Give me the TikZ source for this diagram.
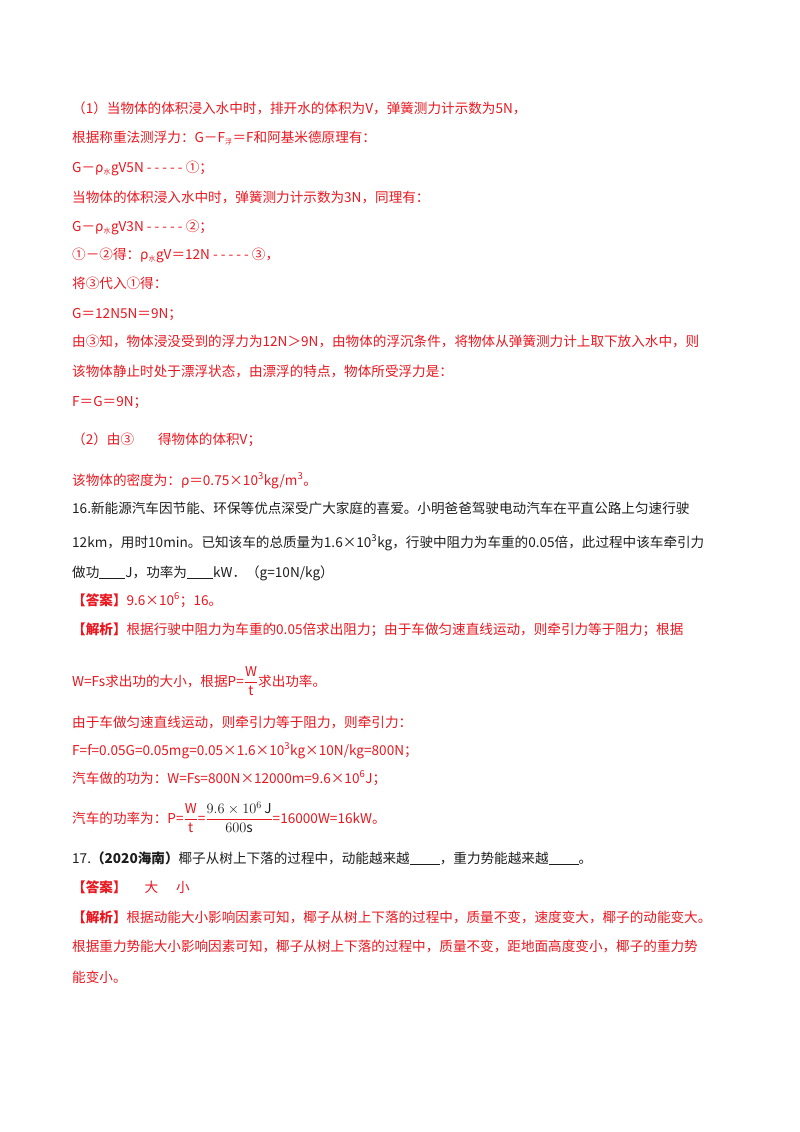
\documentclass[tikz,border=0pt]{standalone}
\usepackage{fontspec}
\setmainfont{Noto Sans CJK SC}
\XeTeXlinebreaklocale "zh"
\XeTeXlinebreakskip=0pt plus 2pt
\definecolor{ansred}{RGB}{232,24,32}
\definecolor{txt}{RGB}{30,30,30}
\newcommand{\sx}[1]{\textsuperscript{#1}}
\newcommand{\fl}[2]{\makebox[#1pt][s]{#2}}
\begin{document}
\begin{tikzpicture}[x=1pt,y=-1pt,
  r/.style={anchor=base west,inner sep=0pt,text=ansred,font=\fontsize{13.6}{14}\selectfont},
  k/.style={anchor=base west,inner sep=0pt,text=txt,font=\fontsize{13.6}{14}\selectfont}]
\useasboundingbox[fill=white] (0,0) rectangle (800,1132);
\node[r] (l1) at (72,113) {（1）当物体的体积浸入水中时，排开水的体积为V，弹簧测力计示数为5N，};
\node[r] (l2) at (72,142) {根据称重法测浮力：G－F\textsubscript{\scriptsize 浮}＝F和阿基米德原理有：};
\node[r] (l3) at (72,172) {G－ρ\textsubscript{\scriptsize 水}gV5N - - - - - ①；};
\node[r] (l4) at (72,202) {当物体的体积浸入水中时，弹簧测力计示数为3N，同理有：};
\node[r] (l5) at (72,231) {G－ρ\textsubscript{\scriptsize 水}gV3N - - - - - ②；};
\node[r] (l6) at (72,259) {①－②得：ρ\textsubscript{\scriptsize 水}gV＝12N - - - - - ③，};
\node[r] (l7) at (72,288) {将③代入①得：};
\node[r] (l8) at (72,318) {G＝12N5N＝9N；};
\node[r] (l9) at (72,346) {\fl{658}{由③知，物体浸没受到的浮力为12N＞9N，由物体的浮沉条件，将物体从弹簧测力计上取下放入水中，则}};
\node[r] (l10) at (72,376) {该物体静止时处于漂浮状态，由漂浮的特点，物体所受浮力是：};
\node[r] (l11) at (72,406) {F＝G＝9N；};
\node[r] (l12) at (72,444) {（2）由③\hspace{24pt}得物体的体积V；};
\node[r] (l13) at (72,485) {该物体的密度为：ρ＝0.75×10\sx{3}kg/m\sx{3}。};
\node[k] (q1) at (72,513) {\fl{658}{16.新能源汽车因节能、环保等优点深受广大家庭的喜爱。小明爸爸驾驶电动汽车在平直公路上匀速行驶}};
\node[k] (q2) at (72,547) {\fl{658}{12km，用时10min。已知该车的总质量为1.6×10\sx{3}kg，行驶中阻力为车重的0.05倍，此过程中该车牵引力}};
\node[k] (q3) at (72,577) {做功\underline{\hspace{26pt}}J，功率为\underline{\hspace{26pt}}kW．（g=10N/kg）};
\node[r] (a1) at (72,605) {\textbf{【答案】}9.6×10\sx{6}；16。};
\node[r] (a2) at (72,634) {\fl{658}{\textbf{【解析】}根据行驶中阻力为车重的0.05倍求出阻力；由于车做匀速直线运动，则牵引力等于阻力；根据}};
\node[r] (a3) at (72,686) {W=Fs求出功的大小，根据P=$\displaystyle\frac{\mathrm{W}}{\mathrm{t}}$求出功率。};
\node[r] (a4) at (72,727) {由于车做匀速直线运动，则牵引力等于阻力，则牵引力：};
\node[r] (a5) at (72,755) {F=f=0.05G=0.05mg=0.05×1.6×10\sx{3}kg×10N/kg=800N；};
\node[r] (a6) at (72,783) {汽车做的功为：W=Fs=800N×12000m=9.6×10\sx{6}J；};
\node[r] (a7) at (72,823) {汽车的功率为：P=$\displaystyle\frac{\mathrm{W}}{\mathrm{t}}$=$\displaystyle\frac{\textcolor{txt}{9.6\times10^{6}\,\mathrm{J}}}{\textcolor{txt}{600\mathrm{s}}}$=16000W=16kW。};
\node[k] (q4) at (72,863) {17.\textbf{（2020海南）}椰子从树上下落的过程中，动能越来越\underline{\hspace{30pt}}，重力势能越来越\underline{\hspace{30pt}}。};
\node[r] (b1) at (72,892) {\textbf{【答案】}\hspace{18pt}大\hspace{18pt}小};
\node[r] (b2) at (72,922) {\fl{662}{\textbf{【解析】}根据动能大小影响因素可知，椰子从树上下落的过程中，质量不变，速度变大，椰子的动能变大。}};
\node[r] (b3) at (72,951) {\fl{658}{根据重力势能大小影响因素可知，椰子从树上下落的过程中，质量不变，距地面高度变小，椰子的重力势}};
\node[r] (b4) at (72,982) {能变小。};
\end{tikzpicture}
\end{document}
